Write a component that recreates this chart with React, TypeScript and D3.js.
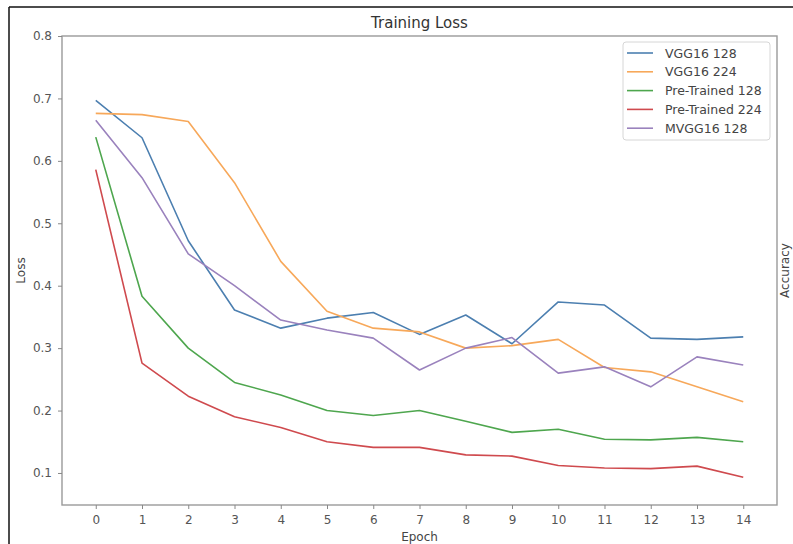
import { useEffect, useRef } from 'react'
import * as d3 from 'd3'

const epochs = [0, 1, 2, 3, 4, 5, 6, 7, 8, 9, 10, 11, 12, 13, 14]
const yTicks = [0.1, 0.2, 0.3, 0.4, 0.5, 0.6, 0.7, 0.8]

const seriesNames = ['VGG16 128', 'VGG16 224', 'Pre-Trained 128', 'Pre-Trained 224', 'MVGG16 128']
const seriesColors = ['#4c7fb0', '#f7a85a', '#4ea64e', '#cf4a4e', '#9a82bd']

const vgg16_128 = [0.697, 0.637, 0.472, 0.361, 0.332, 0.348, 0.357, 0.322, 0.353, 0.307, 0.374, 0.369, 0.316, 0.314, 0.318]
const vgg16_224 = [0.676, 0.674, 0.663, 0.565, 0.439, 0.359, 0.332, 0.326, 0.300, 0.304, 0.314, 0.269, 0.262, 0.238, 0.214]
const pre_128 = [0.638, 0.383, 0.300, 0.245, 0.225, 0.200, 0.192, 0.200, 0.183, 0.165, 0.170, 0.154, 0.153, 0.157, 0.150]
const pre_224 = [0.586, 0.276, 0.223, 0.190, 0.173, 0.150, 0.141, 0.141, 0.129, 0.127, 0.112, 0.108, 0.107, 0.111, 0.093]
const mvgg16_128 = [0.665, 0.573, 0.451, 0.400, 0.345, 0.329, 0.316, 0.265, 0.300, 0.317, 0.260, 0.270, 0.238, 0.286, 0.273]

const allSeries = [vgg16_128, vgg16_224, pre_128, pre_224, mvgg16_128]

const W = 793
const H = 544

export default function App() {
  const ref = useRef<SVGSVGElement>(null)

  useEffect(() => {
    const svg = d3.select(ref.current)
    svg.selectAll('*').remove()

    const left = 62, right = 777, top = 36, bottom = 505
    const font = 'DejaVu Sans, sans-serif'

    const x = d3.scaleLinear().domain([-0.73, 14.73]).range([left, right])
    const y = d3.scaleLinear().domain([0.0487, 0.8]).range([bottom, top])

    svg.append('rect').attr('width', W).attr('height', H).attr('fill', '#fff')

    // outer frame (top and left edges only)
    svg.append('line').attr('x1', 9).attr('x2', W).attr('y1', 7).attr('y2', 7)
      .attr('stroke', '#111').attr('stroke-width', 1.5)
    svg.append('line').attr('x1', 9).attr('x2', 9).attr('y1', 7).attr('y2', H)
      .attr('stroke', '#111').attr('stroke-width', 1.5)

    // plot frame
    svg.append('rect')
      .attr('x', left).attr('y', top)
      .attr('width', right - left).attr('height', bottom - top)
      .attr('fill', 'none').attr('stroke', '#9a9a9a').attr('stroke-width', 1.4)

    // x axis
    const xAxis = svg.append('g')
      .attr('transform', `translate(0,${bottom})`)
      .call(d3.axisBottom(x).tickValues(epochs).tickSize(4).tickPadding(6).tickFormat(d3.format('d')))
    xAxis.select('.domain').remove()
    xAxis.selectAll('line').attr('stroke', '#888')
    xAxis.selectAll('text').attr('fill', '#555').style('font-family', font).style('font-size', '12px')

    // y axis
    const yAxis = svg.append('g')
      .attr('transform', `translate(${left},0)`)
      .call(d3.axisLeft(y).tickValues(yTicks).tickSize(4).tickPadding(6).tickFormat(d3.format('.1f')))
    yAxis.select('.domain').remove()
    yAxis.selectAll('line').attr('stroke', '#888')
    yAxis.selectAll('text').attr('fill', '#555').style('font-family', font).style('font-size', '12px')

    // lines
    const line = d3.line<number>()
      .x((_, i) => x(epochs[i]))
      .y(d => y(d))

    allSeries.forEach((vals, i) => {
      svg.append('path')
        .datum(vals)
        .attr('d', line)
        .attr('fill', 'none')
        .attr('stroke', seriesColors[i])
        .attr('stroke-width', 1.6)
        .attr('stroke-linejoin', 'round')
    })

    // title & labels
    svg.append('text').attr('x', (left + right) / 2).attr('y', 28)
      .attr('text-anchor', 'middle').attr('fill', '#333')
      .style('font-family', font).style('font-size', '15px').text('Training Loss')

    svg.append('text').attr('x', (left + right) / 2).attr('y', 541)
      .attr('text-anchor', 'middle').attr('fill', '#444')
      .style('font-family', font).style('font-size', '12px').text('Epoch')

    svg.append('text')
      .attr('transform', `translate(25,${(top + bottom) / 2}) rotate(-90)`)
      .attr('text-anchor', 'middle').attr('fill', '#444')
      .style('font-family', font).style('font-size', '12px').text('Loss')

    svg.append('text')
      .attr('transform', `translate(789,${(top + bottom) / 2}) rotate(-90)`)
      .attr('text-anchor', 'middle').attr('fill', '#444')
      .style('font-family', font).style('font-size', '12px').text('Accuracy')

    // legend
    const legend = svg.append('g').attr('transform', 'translate(623,42)')
    legend.append('rect').attr('width', 147).attr('height', 98).attr('rx', 3)
      .attr('fill', '#fff').attr('stroke', '#d6d6d6').attr('stroke-width', 1)
    seriesNames.forEach((name, i) => {
      const ly = 11 + i * 18.8
      legend.append('line').attr('x1', 4).attr('x2', 30).attr('y1', ly).attr('y2', ly)
        .attr('stroke', seriesColors[i]).attr('stroke-width', 1.6)
      legend.append('text').attr('x', 42).attr('y', ly + 4.5)
        .attr('fill', '#444').style('font-family', font).style('font-size', '12.5px').text(name)
    })
  }, [])

  return (
    <svg ref={ref} width={W} height={H}
      style={{ position: 'absolute', left: 0, top: 0, display: 'block' }} />
  )
}
